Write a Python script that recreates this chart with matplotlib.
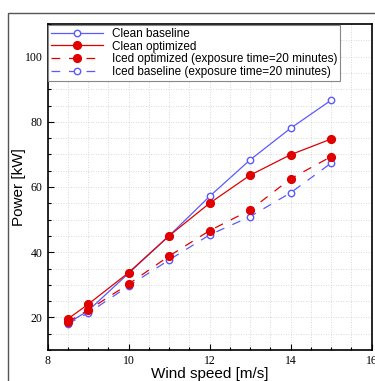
import matplotlib
matplotlib.use("Agg")
import matplotlib.pyplot as plt
from matplotlib.patches import Rectangle
from matplotlib.ticker import MultipleLocator

wind = [8.5, 9, 10, 11, 12, 13, 14, 15]
clean_base = [18.2, 22.0, 33.5, 45.0, 57.1, 68.3, 78.0, 86.6]
clean_opt = [19.5, 24.0, 33.7, 45.0, 55.0, 63.6, 69.9, 74.7]
iced_opt = [18.6, 22.2, 30.2, 38.8, 46.6, 52.9, 62.5, 69.3]
iced_base = [18.0, 21.3, 29.6, 37.6, 45.3, 50.9, 58.2, 67.3]

labels = ["Clean baseline", "Clean optimized",
          "Iced optimized (exposure time=20 minutes)",
          "Iced baseline (exposure time=20 minutes)"]

blue = "#5a5aff"
red = "#e00000"

fig = plt.figure(figsize=(3.75, 3.81), dpi=100)
fig.patches.append(Rectangle((8/375, -0.1), 1.2, 1 - 13/381 + 0.1,
                             transform=fig.transFigure, fill=False,
                             edgecolor="#555555", linewidth=1.0))
ax = fig.add_axes([47.5/375, 31/381, 324/375, 326/381])

ax.plot(wind, clean_base, color=blue, lw=0.9, marker="o", mfc="white",
        mec=blue, mew=1.0, ms=4.6, label=labels[0], zorder=3)
ax.plot(wind, clean_opt, color=red, lw=0.9, marker="o", mfc=red,
        mec=red, ms=5.6, label=labels[1], zorder=4)
ax.plot(wind, iced_opt, color=red, lw=0.9, marker="o", mfc=red,
        mec=red, ms=5.6, dashes=(7, 7), label=labels[2], zorder=4)
ax.plot(wind, iced_base, color=blue, lw=0.9, marker="o", mfc="white",
        mec=blue, mew=1.0, ms=4.6, dashes=(7, 7), label=labels[3], zorder=3)

ax.set_xlim(8, 16)
ax.set_ylim(10, 110)
ax.xaxis.set_major_locator(MultipleLocator(2))
ax.xaxis.set_minor_locator(MultipleLocator(0.5))
ax.yaxis.set_major_locator(MultipleLocator(20))
ax.yaxis.set_minor_locator(MultipleLocator(5))
ax.set_yticks([20, 40, 60, 80, 100])
ax.grid(which="both", color="#cccccc", linestyle=(0, (1, 2)), linewidth=0.6)
ax.set_axisbelow(True)
ax.tick_params(which="both", direction="in", length=4, width=0.8,
               top=False, right=False, labelsize=8.5)
ax.tick_params(which="minor", length=2.5)
for lab in ax.get_xticklabels() + ax.get_yticklabels():
    lab.set_fontfamily("Liberation Serif")
for s in ax.spines.values():
    s.set_linewidth(1.2)

ax.set_xlabel("Wind speed [m/s]", fontfamily="Liberation Sans", fontsize=11, labelpad=0)
ax.set_ylabel("Power [kW]", fontfamily="Liberation Sans", fontsize=11, labelpad=-1)

leg = ax.legend(loc="upper left", bbox_to_anchor=(0.003, 0.997), fancybox=False,
                framealpha=1, edgecolor="#888888", handlelength=4.4,
                numpoints=1, labelspacing=0.05, borderpad=0.25,
                handletextpad=0.7, borderaxespad=0,
                prop={"family": "Liberation Sans", "size": 8.5})
leg.get_frame().set_linewidth(0.8)

fig.savefig("out.png", dpi=100)
